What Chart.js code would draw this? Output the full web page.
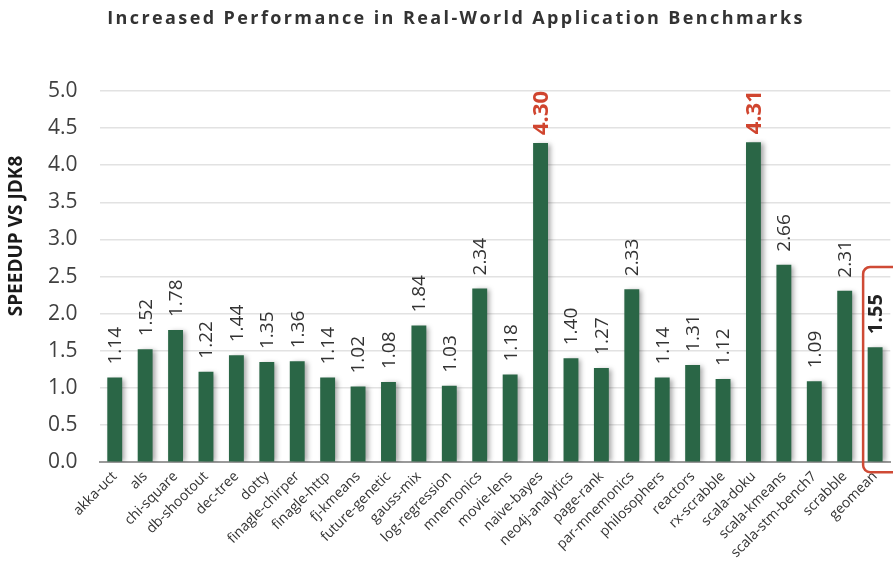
<!DOCTYPE html>
<html>
<head>
<meta charset="utf-8">
<script src="https://cdn.jsdelivr.net/npm/chart.js@4.4.0/dist/chart.umd.min.js"></script>
<style>
    body { margin: 0; background: #fff; }
    #wrap { width: 893px; height: 567px; }
</style>
</head>
<body>
<div id="wrap"><canvas id="speedupChart" width="893" height="567"></canvas></div>
<script>
const benchmarks = ["akka-uct", "als", "chi-square", "db-shootout", "dec-tree", "dotty", "finagle-chirper", "finagle-http", "fj-kmeans", "future-genetic", "gauss-mix", "log-regression", "mnemonics", "movie-lens", "naive-bayes", "neo4j-analytics", "page-rank", "par-mnemonics", "philosophers", "reactors", "rx-scrabble", "scala-doku", "scala-kmeans", "scala-stm-bench7", "scrabble", "geomean"];
const speedups = [1.14, 1.52, 1.78, 1.22, 1.44, 1.35, 1.36, 1.14, 1.02, 1.08, 1.84, 1.03, 2.34, 1.18, 4.30, 1.40, 1.27, 2.33, 1.14, 1.31, 1.12, 4.31, 2.66, 1.09, 2.31, 1.55];
const yTicks = [0, 0.5, 1, 1.5, 2, 2.5, 3, 3.5, 4, 4.5, 5];
const highlighted = ["naive-bayes", "scala-doku"];
const boxed = "geomean";

// bar shadow
const shadowPlugin = {
    id: 'shadow',
    beforeDatasetsDraw(chart) {
        const ctx = chart.ctx;
        ctx.save();
        ctx.shadowColor = 'rgba(0,0,0,0.35)';
        ctx.shadowBlur = 5;
        ctx.shadowOffsetX = 3;
        ctx.shadowOffsetY = 1;
    },
    afterDatasetsDraw(chart) {
        chart.ctx.restore();
    }
};

// rotated value labels, titles and geomean box
const labelPlugin = {
    id: 'labels',
    afterDraw(chart) {
        const ctx = chart.ctx;
        const meta = chart.getDatasetMeta(0);
        meta.data.forEach((bar, i) => {
            const name = benchmarks[i];
            const hot = highlighted.includes(name);
            ctx.save();
            ctx.translate(bar.x, bar.y - (hot ? 8 : 13));
            ctx.rotate(-Math.PI / 2);
            ctx.textAlign = 'left';
            ctx.textBaseline = 'middle';
            if (hot) {
                ctx.fillStyle = '#d0452f';
                ctx.font = 'bold 22px "Open Sans"';
            } else if (name === boxed) {
                ctx.fillStyle = '#222';
                ctx.font = 'bold 20px "Open Sans"';
            } else {
                ctx.fillStyle = '#333';
                ctx.font = '19px "Open Sans"';
            }
            ctx.fillText(speedups[i].toFixed(2), 0, 1);
            ctx.restore();
        });

        // red box round the geomean bar
        const x = chart.scales.x;
        const y = chart.scales.y;
        const gi = benchmarks.indexOf(boxed);
        const cx = x.getPixelForValue(gi);
        const left = cx - 12;
        const top = y.getPixelForValue(2.63);
        const bottom = y.getPixelForValue(0) + 10;
        ctx.save();
        ctx.strokeStyle = '#cf4a35';
        ctx.lineWidth = 2.5;
        ctx.beginPath();
        ctx.roundRect(left, top, 60, bottom - top, 7);
        ctx.stroke();
        ctx.restore();

        // chart title
        ctx.save();
        ctx.font = 'bold 18px "Open Sans"';
        ctx.letterSpacing = '2.4px';
        ctx.fillStyle = '#333';
        ctx.textAlign = 'center';
        ctx.textBaseline = 'middle';
        ctx.fillText('Increased Performance in Real-World Application Benchmarks', 456, 19);
        ctx.restore();

        // y axis title
        ctx.save();
        ctx.translate(17, 236);
        ctx.rotate(-Math.PI / 2);
        ctx.font = 'bold 19px "Open Sans"';
        ctx.fillStyle = '#1a1a1a';
        ctx.textAlign = 'center';
        ctx.textBaseline = 'middle';
        ctx.fillText('SPEEDUP VS JDK8', 0, 0);
        ctx.restore();
    }
};

new Chart(document.getElementById('speedupChart'), {
    type: 'bar',
    data: {
        labels: benchmarks,
        datasets: [{
            data: speedups,
            backgroundColor: '#2a6646',
            borderWidth: 0,
            categoryPercentage: 1,
            barPercentage: 0.49
        }]
    },
    options: {
        responsive: false,
        animation: false,
        layout: { padding: { top: 91, right: 0, left: 26, bottom: 0 } },
        plugins: {
            legend: { display: false },
            tooltip: { enabled: false }
        },
        scales: {
            x: {
                grid: { display: false, drawTicks: false },
                border: { color: '#9a9a9a', width: 2 },
                ticks: {
                    autoSkip: false,
                    maxRotation: 45,
                    minRotation: 45,
                    padding: 6,
                    color: '#333',
                    font: { family: '"Open Sans"', size: 14 }
                }
            },
            y: {
                min: 0,
                max: 5,
                afterBuildTicks(axis) {
                    axis.ticks = yTicks.map(v => ({ value: v }));
                },
                grid: { color: '#e2e2e2', lineWidth: 1.5, drawTicks: false },
                border: { display: false },
                ticks: {
                    padding: 22,
                    color: '#404040',
                    font: { family: '"Open Sans"', size: 21 },
                    callback: v => v.toFixed(1)
                }
            }
        }
    },
    plugins: [shadowPlugin, labelPlugin]
});
</script>
</body>
</html>
